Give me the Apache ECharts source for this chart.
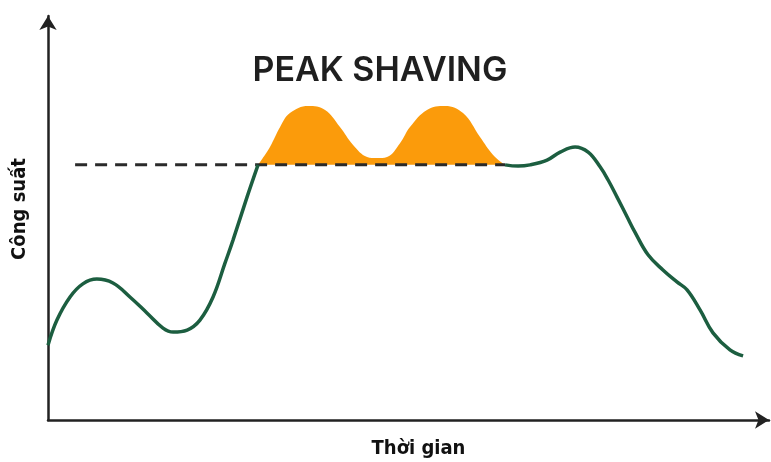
<!DOCTYPE html>
<html>
<head>
<meta charset="utf-8">
<script src="https://cdn.jsdelivr.net/npm/echarts@6/dist/echarts.min.js"></script>
<style>
  html, body { margin: 0; padding: 0; background: #fff; }
  #chart { width: 771px; height: 462px; }
</style>
</head>
<body>
<div id="chart"></div>
<script>
// thời gian (giờ) / công suất (%)
var threshold = 64.1;
var loadBefore = [[0, 18.8], [0.3, 25.1], [0.74, 30.9], [1.17, 34.2], [1.64, 35.4], [2.18, 34.4], [2.75, 30.9], [3.32, 26.9], [3.86, 23.1], [4.2, 22.1], [4.67, 22.6], [5.1, 25.1], [5.54, 30.9], [5.94, 39.4], [6.21, 45.2], [6.68, 56.0], [7.05, 64.1]];
var peakPart = [[7.05, 64.1], [7.45, 68.6], [7.79, 73.6], [8.12, 77.1], [8.73, 78.9], [9.3, 77.9], [9.8, 73.6], [10.24, 69.1], [10.71, 66.1], [11.04, 65.8], [11.38, 66.1], [11.82, 69.6], [12.15, 73.6], [12.72, 77.9], [13.33, 78.9], [13.93, 77.1], [14.5, 71.1], [14.94, 66.6], [15.34, 64.1]];
var loadAfter = [[15.34, 64.1], [15.78, 63.8], [16.18, 64.1], [16.75, 65.3], [17.19, 67.3], [17.69, 68.6], [18.13, 67.3], [18.53, 63.6], [18.8, 60.3], [19.1, 56.0], [19.44, 51.0], [19.7, 47.2], [20.14, 41.5], [20.64, 37.7], [21.11, 34.7], [21.45, 32.7], [21.89, 27.6], [22.32, 21.9], [22.89, 17.6], [23.33, 16.1]];
var limitLine = [[0.91, threshold], [15.34, threshold]];

var chart = echarts.init(document.getElementById('chart'));
chart.setOption({
    animation: false,
    title: {
        text: 'PEAK SHAVING',
        left: 375,
        top: 49,
        textAlign: 'center',
        textStyle: { fontFamily: 'Inter', fontWeight: 600, fontSize: 34, color: '#1f1f1f' }
    },
    grid: { left: 48, right: 2, top: 16, bottom: 42, outerBoundsMode: 'none' },
    xAxis: {
        type: 'value', min: 0, max: 24.2,
        name: 'Thời gian',
        nameLocation: 'middle',
        nameGap: 19,
        nameTextStyle: { fontFamily: 'DejaVu Sans Condensed', fontWeight: 'bold', fontSize: 20, color: '#111', padding: [0, 0, 0, 20] },
        axisLine: { show: true, symbol: ['none', 'arrow'], symbolSize: [13, 14], lineStyle: { color: '#222', width: 2.5 } },
        axisTick: { show: false }, axisLabel: { show: false }, splitLine: { show: false }
    },
    yAxis: {
        type: 'value', min: 0, max: 101.5,
        name: 'Công suất',
        nameLocation: 'middle',
        nameRotate: 90,
        nameGap: 18,
        nameTextStyle: { fontFamily: 'DejaVu Sans Condensed', fontWeight: 'bold', fontSize: 20, color: '#111', padding: [0, 0, 0, 18] },
        axisLine: { show: true, symbol: ['none', 'arrow'], symbolSize: [13, 14], lineStyle: { color: '#222', width: 2.5 } },
        axisTick: { show: false }, axisLabel: { show: false }, splitLine: { show: false }
    },
    series: [
        {
            type: 'line', data: peakPart, smooth: 0.4, showSymbol: false,
            lineStyle: { width: 0 },
            areaStyle: { color: '#fb9b0b', opacity: 1, origin: threshold }
        },
        {
            type: 'line', data: limitLine, showSymbol: false,
            lineStyle: { color: '#2a2a2a', width: 3, type: [12, 8] }
        },
        {
            type: 'line', data: loadBefore, smooth: 0.4, showSymbol: false,
            lineStyle: { color: '#1c5e40', width: 3.5 }
        },
        {
            type: 'line', data: loadAfter, smooth: 0.4, showSymbol: false,
            lineStyle: { color: '#1c5e40', width: 3.5 }
        }
    ]
});
</script>
</body>
</html>
